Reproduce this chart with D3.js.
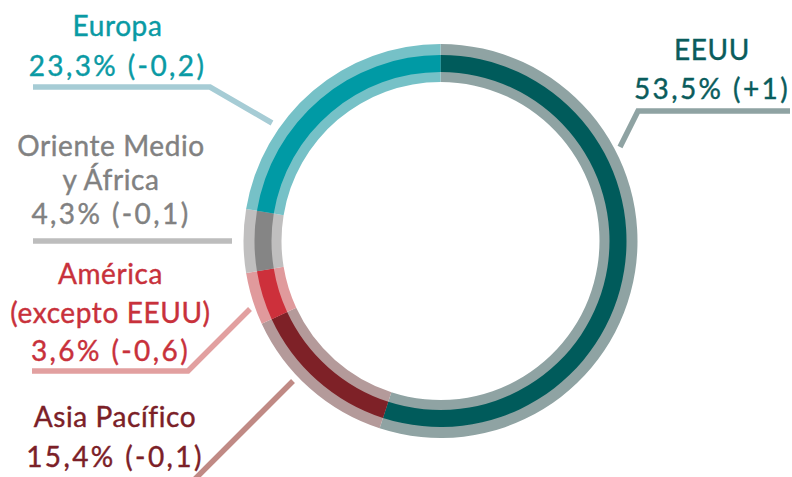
<!DOCTYPE html>
<html>
<head>
<meta charset="utf-8">
<script src="https://cdn.jsdelivr.net/npm/d3@7/dist/d3.min.js"></script>
<style>
  html, body { margin: 0; padding: 0; background: #ffffff; }
  svg { display: block; }
  text { font-family: Lato, "Noto Sans", sans-serif; font-size: 28px; }
</style>
</head>
<body>
<svg id="chart" width="792" height="477"></svg>
<script>
// ---- data ----
const regions = ["EEUU", "Asia Pacífico", "América (excepto EEUU)", "Oriente Medio y África", "Europa"];
const ringShare = [55.0, 13.1, 4.3, 5.2, 22.4];
// values printed in the labels
const labelShare = ["53,5%", "15,4%", "3,6%", "4,3%", "23,3%"];
const labelChange = ["(+1)", "(-0,1)", "(-0,6)", "(-0,1)", "(-0,2)"];
const nameLines = [["EEUU"], ["Asia Pacífico"], ["América", "(excepto EEUU)"], ["Oriente Medio", "y África"], ["Europa"]];

// ---- styles ----
const lightColor = ["#8fa3a3", "#b49a9a", "#e09a9c", "#c0bfbf", "#76c1c7"];
const darkColor  = ["#005b5b", "#7e2127", "#cd303b", "#858585", "#009aa5"];
const textColor  = ["#0a5c5c", "#7b2027", "#c8313b", "#818181", "#0a9aa4"];
const leaderColor= ["#8fa3a3", "#c08a85", "#e2a0a0", "#bdbdbd", "#a6ccd5"];

// ---- layout ----
const cx = 440.5, cy = 241;
const rOuter = 197, rDarkOuter = 186, rDarkInner = 169, rInner = 159;
// label layout: centre x and baselines of each line
const labelLayout = [
  { x: 712, ys: [59.5, 99] },
  { x: 115, ys: [426.5, 466.5] },
  { x: 110.5, ys: [284, 323, 361] },
  { x: 111, ys: [155.5, 190, 223.5] },
  { x: 117.5, ys: [35.5, 75.5] }
];
const leaders = [
  [[790, 111], [638, 111], [620, 147]],
  [[293, 381], [190, 484], [20, 484]],
  [[32, 371], [188, 371], [250, 309]],
  [[33, 241], [232, 241]],
  [[33, 87], [210, 87], [272, 123]]
];

const svg = d3.select("#chart");
const g = svg.append("g").attr("transform", `translate(${cx},${cy})`);

const pie = d3.pie().sort(null).value(d => d).startAngle(0).endAngle(2 * Math.PI);
const arcs = pie(ringShare);

const arcLight = d3.arc().innerRadius(rInner).outerRadius(rOuter);
const arcDark = d3.arc().innerRadius(rDarkInner).outerRadius(rDarkOuter);

g.selectAll("path.light").data(arcs).join("path")
  .attr("class", "light")
  .attr("d", arcLight)
  .attr("fill", (d, i) => lightColor[i]);

g.selectAll("path.dark").data(arcs).join("path")
  .attr("class", "dark")
  .attr("d", arcDark)
  .attr("fill", (d, i) => darkColor[i]);

// leader lines
const line = d3.line();
svg.selectAll("path.leader").data(leaders).join("path")
  .attr("class", "leader")
  .attr("d", d => line(d))
  .attr("fill", "none")
  .attr("stroke", (d, i) => leaderColor[i])
  .attr("stroke-width", 5.5)
  .attr("stroke-linejoin", "miter");

// labels
regions.forEach((r, i) => {
  const lines = nameLines[i].concat([labelShare[i] + " " + labelChange[i]]);
  const L = labelLayout[i];
  lines.forEach((t, j) => {
    const isNum = j === lines.length - 1;
    svg.append("text")
      .attr("x", L.x)
      .attr("y", L.ys[j])
      .attr("text-anchor", "middle")
      .attr("fill", textColor[i])
      .attr("stroke", textColor[i])
      .attr("stroke-width", 0.4)
      .style("letter-spacing", isNum ? "2.4px" : "0.6px")
      .text(t);
  });
});
</script>
</body>
</html>
